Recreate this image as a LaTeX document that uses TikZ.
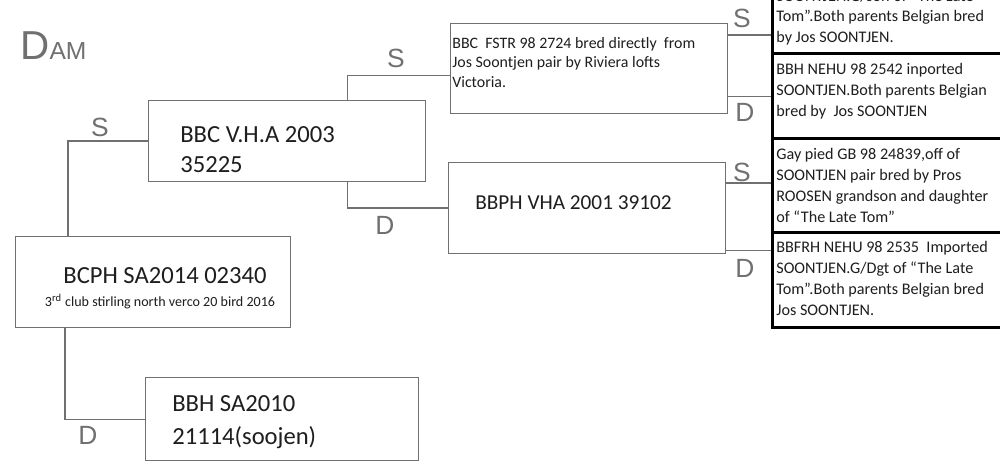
\documentclass[tikz,border=0pt]{standalone}
\usepackage{fontspec}
\setmainfont{Carlito}
\newfontfamily\handfont{Liberation Sans}
\usetikzlibrary{calc}
\definecolor{pencil}{HTML}{707070}
\definecolor{ink}{HTML}{1E1E1E}
\begin{document}
\begin{tikzpicture}[x=0.02cm,y=-0.02cm,
  sketchbox/.style={draw=pencil, line width=0.6pt, inner sep=0pt, anchor=north west},
  conn/.style={draw=pencil, line width=0.6pt},
  rbox/.style={draw=black, line width=1.6pt, anchor=north west, inner sep=0pt, minimum width=4.78cm},
  rtext/.style={anchor=north west, align=left, inner sep=0pt, font=\fontsize{9.2}{11.9}\selectfont, text=ink},
  midtext/.style={anchor=north west, align=left, inner sep=0pt, font=\fontsize{9.05}{11}\selectfont, text=ink},
  hand/.style={text=pencil, font=\handfont\fontsize{15}{15}\selectfont, inner sep=0pt},
  big/.style={font=\fontsize{14}{17}\selectfont, text=ink, inner sep=0pt},
]
\fill[white] (0,0) rectangle (1000,464);
\clip (0,0) rectangle (1000,464);

% title
\node[hand, anchor=west] (dam) at (20,46) {\fontsize{23}{23}\selectfont D\fontsize{14}{14}\selectfont AM};

% sketched boxes
\node[sketchbox, minimum width=5.5cm, minimum height=1.82cm] (bcph) at (15,236) {};
\node[sketchbox, minimum width=5.54cm, minimum height=1.62cm] (bbc) at (148,100) {};
\node[sketchbox, minimum width=5.46cm, minimum height=1.66cm] (bbh) at (145,377) {};
\node[sketchbox, minimum width=5.54cm, minimum height=1.8cm] (fstr) at (450,23) {};
\node[sketchbox, minimum width=5.54cm, minimum height=1.82cm] (bbph) at (448,162) {};

% texts in sketched boxes
\node[big] (bcphT) at (165,276) {BCPH SA2014 02340};
\node[inner sep=0pt, text=ink, font=\fontsize{8}{9}\selectfont] (bcphS) at (160,302) {3\textsuperscript{rd} club stirling north verco 20 bird 2016};
\node[big, anchor=west, align=left, font=\fontsize{14}{17}\selectfont] (bbcT) at (180,150) {BBC V.H.A 2003\\35225};
\node[big, anchor=west, align=left, font=\fontsize{14}{18.7}\selectfont] (bbhT) at (172,422) {BBH SA2010\\21114(soojen)};
\node[midtext] (fstrT) at (452,37) {BBC\ \ FSTR 98 2724 bred directly\ \ from\\Jos Soontjen pair by Riviera lofts\\Victoria.};
\node[big, anchor=west, font=\fontsize{12.1}{14}\selectfont] (bbphT) at (475,203) {BBPH VHA 2001 39102};

% right-hand boxes
\node[rbox, minimum height=1.84cm] (r1) at (771,-40) {};
\node[rbox, minimum height=1.7cm] (r2) at (771,52) {};
\node[rbox, minimum height=1.88cm] (r3) at (771,137) {};
\node[rbox, minimum height=1.9cm] (r4) at (771,231) {};

\node[rtext] (r1T) at (776,-11) {SOONTJEN.G/son of “The Late\\Tom”.Both parents Belgian bred\\by Jos SOONTJEN.};
\node[rtext] (r2T) at (776,63) {BBH NEHU 98 2542 inported\\SOONTJEN.Both parents Belgian\\bred by\ \ Jos SOONTJEN};
\node[rtext] (r3T) at (776,148) {Gay pied GB 98 24839,off of\\SOONTJEN pair bred by Pros\\ROOSEN grandson and daughter\\of “The Late Tom”};
\node[rtext] (r4T) at (776,241) {BBFRH NEHU 98 2535\ \ Imported\\SOONTJEN.G/Dgt of “The Late\\Tom”.Both parents Belgian bred\\Jos SOONTJEN.};

% connectors
\draw[conn] ([xshift=1.06cm]bcph.north west) |- (bbc.west);
\draw[conn] ([xshift=1cm]bcph.south west) |- (bbh.west);
\draw[conn] ([xshift=4cm]bbc.north west) |- ([yshift=-0.14cm]fstr.west);
\draw[conn] ([xshift=4cm]bbc.south west) |- (bbph.west);

\coordinate (fa) at ([yshift=-0.24cm]fstr.north east);
\coordinate (fb) at ([yshift=0.36cm]fstr.south east);
\coordinate (pa) at ([yshift=-0.42cm]bbph.north east);
\coordinate (pb) at ([yshift=0.08cm]bbph.south east);
\draw[conn] (fa) -- (fa -| r1.west);
\draw[conn] (fb) -- (fb -| r2.west);
\draw[conn] (pa) -- (pa -| r3.west);
\draw[conn] (pb) -- (pb -| r4.west);

% S / D labels
\node[hand] (l1) at (100,127) {S};
\node[hand] (l2) at (88,435) {D};
\node[hand] (l3) at (396,58) {S};
\node[hand] (l4) at (385,225) {D};
\node[hand] (l5) at (742,18) {S};
\node[hand] (l6) at (745,112) {D};
\node[hand] (l7) at (742,172) {S};
\node[hand] (l8) at (745,268) {D};
\end{tikzpicture}
\end{document}
